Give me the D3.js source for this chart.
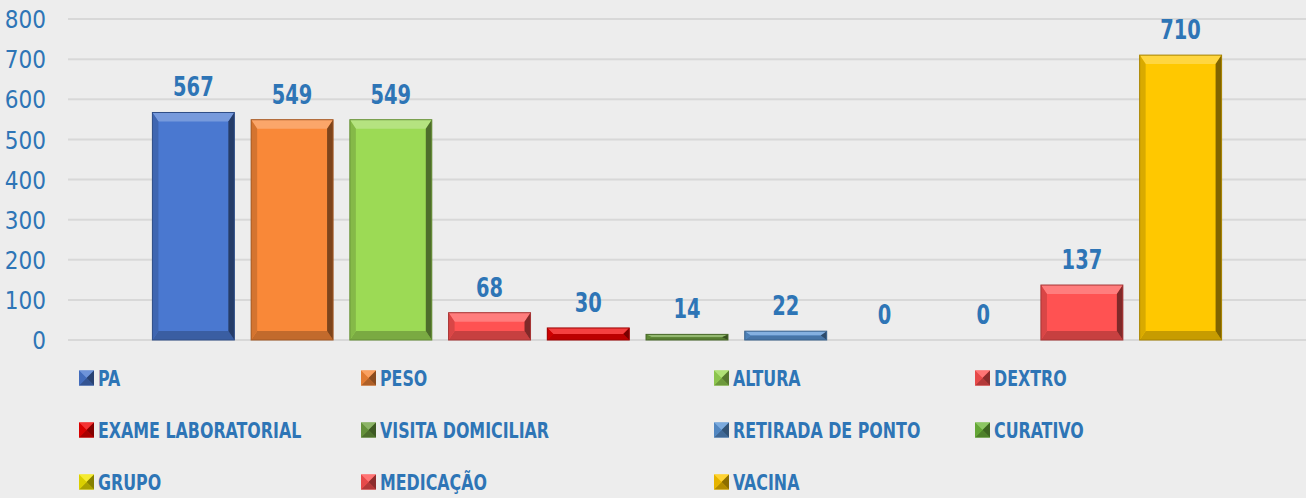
<!DOCTYPE html>
<html><head><meta charset="utf-8">
<script src="https://cdn.jsdelivr.net/npm/d3@7"></script>
<style>
html,body{margin:0;padding:0;background:#EDEDED;}
svg{display:block;}
</style></head>
<body>
<svg id="chart" width="1306" height="498"></svg>
<script>
const seriesNames = ["PA","PESO","ALTURA","DEXTRO","EXAME LABORATORIAL","VISITA DOMICILIAR","RETIRADA DE PONTO","CURATIVO","GRUPO","MEDICAÇÃO","VACINA"];
const seriesValues = [567,549,549,68,30,14,22,0,0,137,710];
const seriesColors = ["#4A78D0","#F98838","#9CDA55","#FF5252","#F00000","#6FA040","#5B96D6","#6FB83C","#F2E600","#FF5252","#FFC800"];
const yTicks = [0,100,200,300,400,500,600,700,800];

const FONT = "'DejaVu Sans Condensed','DejaVu Sans',sans-serif";
const BLUE = "#2E75B6";
const svg = d3.select("#chart");
const W = 1306, H = 498;
svg.append("rect").attr("width",W).attr("height",H).attr("fill","#EDEDED");

const x = d3.scaleBand().domain(seriesNames).range([68,1306]).paddingInner(0.17).paddingOuter(0.855);
const y = d3.scaleLinear().domain([0,800]).range([340,19]);

// gridlines
svg.append("g").selectAll("line").data(yTicks).join("line")
  .attr("x1",68).attr("x2",1306)
  .attr("y1",d=>y(d)).attr("y2",d=>y(d))
  .attr("stroke","#D8D8D8").attr("stroke-width",2);

// y axis labels
const yAxis = d3.axisLeft(y).tickValues(yTicks).tickSize(0).tickPadding(0);
const ga = svg.append("g").attr("transform","translate(46,0)").call(yAxis);
ga.select(".domain").remove();
ga.selectAll("text").attr("font-family",FONT).attr("font-size",24).attr("fill",BLUE).attr("dy","0.36em");

function shade(c,k){ return k>0 ? d3.interpolateRgb(c,"#ffffff")(k) : d3.interpolateRgb(c,"#000000")(-k); }

const data = seriesNames.map((n,i)=>({name:n,value:seriesValues[i],color:seriesColors[i]}));
const bars = svg.append("g").selectAll("g").data(data.filter(d=>d.value>0)).join("g");
bars.each(function(d){
  const g = d3.select(this);
  const x0 = x(d.name), w = x.bandwidth();
  const y0 = y(d.value), y1 = y(0), h = y1-y0;
  const b = Math.min(9, h/2), bs = Math.min(6, w/2);
  g.append("rect").attr("x",x0).attr("y",y0).attr("width",w).attr("height",h).attr("fill",d.color);
  g.append("polygon").attr("points",[[x0,y0],[x0+w,y0],[x0+w-bs,y0+b],[x0+bs,y0+b]].join(" "))
    .attr("fill",shade(d.color,0.25));
  g.append("polygon").attr("points",[[x0,y1],[x0+w,y1],[x0+w-bs,y1-b],[x0+bs,y1-b]].join(" "))
    .attr("fill",shade(d.color,-0.22));
  g.append("polygon").attr("points",[[x0,y0],[x0+bs,y0+b],[x0+bs,y1-b],[x0,y1]].join(" "))
    .attr("fill",shade(d.color,-0.15));
  g.append("polygon").attr("points",[[x0+w,y0],[x0+w-bs,y0+b],[x0+w-bs,y1-b],[x0+w,y1]].join(" "))
    .attr("fill",shade(d.color,-0.5));
  g.append("rect").attr("x",x0).attr("y",y0).attr("width",w).attr("height",h)
    .attr("fill","none").attr("stroke",shade(d.color,-0.35)).attr("stroke-width",1);
});

// data labels
svg.append("g").selectAll("text").data(data).join("text")
  .attr("transform",d=>`translate(${x(d.name)+x.bandwidth()/2},${y(d.value)-16}) scale(0.8,1)`)
  .attr("text-anchor","middle")
  .attr("font-family",FONT).attr("font-weight","bold").attr("font-size",27)
  .attr("fill",BLUE).text(d=>d.value);

// legend
const colX = [79,361,714,975];
const rowY = [378,430,482];
const lg = svg.append("g").selectAll("g").data(data).join("g")
  .attr("transform",(d,i)=>`translate(${colX[i%4]},${rowY[Math.floor(i/4)]})`);
lg.each(function(d){
  const g = d3.select(this), s = 15, h = s/2;
  g.append("rect").attr("x",0).attr("y",-h).attr("width",s).attr("height",s).attr("fill",d.color);
  g.append("polygon").attr("points",[[0,-h],[s,-h],[h,0]].join(" ")).attr("fill",shade(d.color,0.2));
  g.append("polygon").attr("points",[[0,h],[s,h],[h,0]].join(" ")).attr("fill",shade(d.color,-0.3));
  g.append("polygon").attr("points",[[s,-h],[s,h],[h,0]].join(" ")).attr("fill",shade(d.color,-0.45));
  g.append("polygon").attr("points",[[0,-h],[0,h],[h,0]].join(" ")).attr("fill",shade(d.color,-0.1));
});
lg.append("text").attr("transform","translate(19,0) scale(0.84,1)").attr("dy","0.36em")
  .attr("font-family",FONT).attr("font-weight","bold").attr("font-size",21)
  .attr("fill",BLUE).text(d=>d.name);
</script>
</body></html>
